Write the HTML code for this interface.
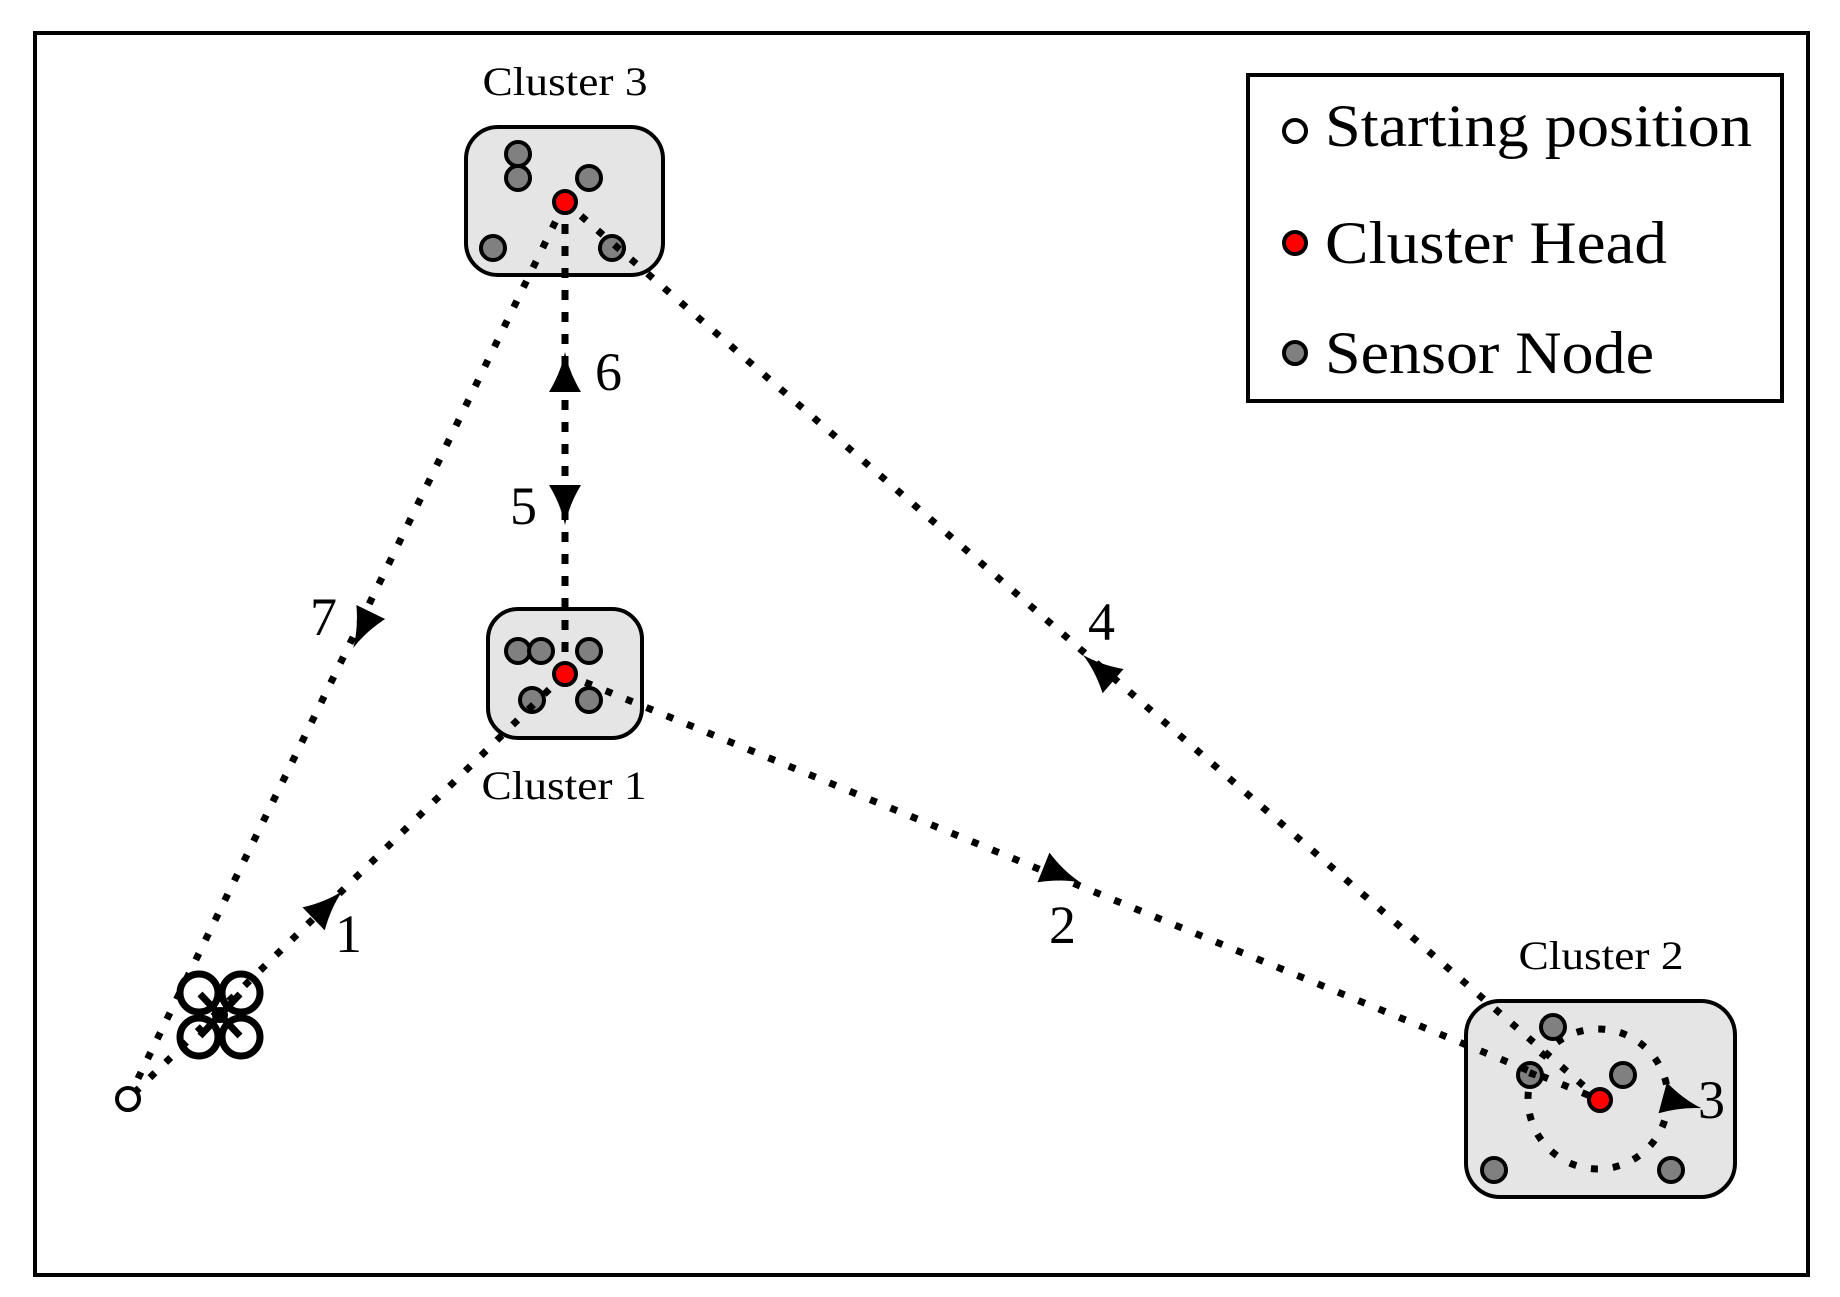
<!DOCTYPE html>
<html><head><meta charset="utf-8"><style>
html,body{margin:0;padding:0;background:#fff;}
svg{display:block;}
text{font-family:"Liberation Serif",serif;fill:#000;}
</style></head><body>
<svg width="1840" height="1297" viewBox="0 0 1840 1297" xmlns="http://www.w3.org/2000/svg">
<rect x="35" y="33" width="1773" height="1242" fill="#fff" stroke="#000" stroke-width="4"/>

<!-- cluster boxes -->
<rect x="466" y="127" width="197" height="148" rx="32" fill="#e5e5e5" stroke="#000" stroke-width="4"/>
<rect x="488" y="609" width="154" height="129" rx="30" fill="#e5e5e5" stroke="#000" stroke-width="4"/>
<rect x="1466" y="1001" width="269" height="196" rx="34" fill="#e5e5e5" stroke="#000" stroke-width="4"/>

<!-- sensor nodes -->
<g fill="#808080" stroke="#000" stroke-width="4">
<circle cx="518" cy="154" r="12"/><circle cx="518" cy="178" r="12"/><circle cx="589" cy="178" r="12"/>
<circle cx="493" cy="248" r="12"/><circle cx="612" cy="248" r="12"/>
<circle cx="518" cy="651" r="12"/><circle cx="541" cy="651" r="12"/><circle cx="589" cy="651" r="12"/>
<circle cx="532" cy="700" r="12"/><circle cx="589" cy="700" r="12"/>
<circle cx="1553" cy="1027" r="12"/><circle cx="1530" cy="1075" r="12"/><circle cx="1623" cy="1075" r="12"/>
<circle cx="1494" cy="1170" r="12"/><circle cx="1671" cy="1170" r="12"/>
</g>

<!-- dotted paths -->
<g stroke="#000" stroke-width="7" stroke-dasharray="7 15" fill="none">
<line x1="565" y1="674" x2="128" y2="1099"/>
<line x1="565" y1="674" x2="1600" y2="1100"/>
<circle cx="1598" cy="1099" r="70"/>
<line x1="1600" y1="1100" x2="565" y2="202"/>
<line x1="565" y1="202" x2="128" y2="1099"/>
</g>
<line x1="565" y1="202" x2="565" y2="674" stroke="#000" stroke-width="7" stroke-dasharray="10 12"/>

<!-- arrowheads -->
<g fill="#000">
<path d="M20,0 Q0,-4 -20,-16 L-20,16 Q0,4 20,0 Z" transform="translate(328,905) rotate(-44)"/>
<path d="M20,0 Q0,-4 -20,-16 L-20,16 Q0,4 20,0 Z" transform="translate(1062,875) rotate(22)"/>
<path d="M20,0 Q0,-4 -20,-16 L-20,16 Q0,4 20,0 Z" transform="translate(1682,1103) rotate(15)"/>
<path d="M20,0 Q0,-4 -20,-16 L-20,16 Q0,4 20,0 Z" transform="translate(1098,668) rotate(-139)"/>
<path d="M20,0 Q0,-4 -20,-16 L-20,16 Q0,4 20,0 Z" transform="translate(565,372) rotate(-90)"/>
<path d="M20,0 Q0,-4 -20,-16 L-20,16 Q0,4 20,0 Z" transform="translate(565,505) rotate(90)"/>
<path d="M20,0 Q0,-4 -20,-16 L-20,16 Q0,4 20,0 Z" transform="translate(362,630) rotate(116)"/>
</g>

<!-- cluster heads -->
<g fill="#ff0000" stroke="#000" stroke-width="4">
<circle cx="565" cy="202" r="11"/>
<circle cx="565" cy="674" r="11"/>
<circle cx="1600" cy="1100" r="11"/>
</g>

<!-- start -->
<circle cx="128" cy="1099" r="11" fill="#fff" stroke="#000" stroke-width="4"/>

<!-- drone -->
<g fill="none" stroke="#000" stroke-width="7">
<circle cx="199" cy="993" r="19"/><circle cx="241" cy="993" r="19"/>
<circle cx="199" cy="1037" r="19"/><circle cx="241" cy="1037" r="19"/>
<line x1="200" y1="994" x2="240" y2="1036"/><line x1="240" y1="994" x2="200" y2="1036"/>
</g>
<circle cx="220" cy="1015" r="8" fill="#000"/>

<!-- labels -->
<g font-size="40" text-anchor="middle">
<text x="565" y="95" textLength="165" lengthAdjust="spacingAndGlyphs">Cluster 3</text>
<text x="564" y="799" textLength="165" lengthAdjust="spacingAndGlyphs">Cluster 1</text>
<text x="1601" y="969" textLength="165" lengthAdjust="spacingAndGlyphs">Cluster 2</text>
</g>
<g font-size="54">
<text x="310" y="635">7</text>
<text x="595" y="390">6</text>
<text x="510" y="524">5</text>
<text x="1088" y="640">4</text>
<text x="335" y="952">1</text>
<text x="1049" y="943">2</text>
<text x="1698" y="1118">3</text>
</g>

<!-- legend -->
<rect x="1248" y="75" width="534" height="326" fill="#fff" stroke="#000" stroke-width="4"/>
<circle cx="1295" cy="131" r="11" fill="#fff" stroke="#000" stroke-width="4"/>
<circle cx="1295" cy="243" r="11" fill="#ff0000" stroke="#000" stroke-width="4"/>
<circle cx="1295" cy="353" r="11" fill="#808080" stroke="#000" stroke-width="4"/>
<g font-size="60">
<text x="1325" y="146" textLength="427" lengthAdjust="spacingAndGlyphs">Starting position</text>
<text x="1325" y="263" textLength="342" lengthAdjust="spacingAndGlyphs">Cluster Head</text>
<text x="1325" y="373" textLength="329" lengthAdjust="spacingAndGlyphs">Sensor Node</text>
</g>
</svg>
</body></html>
